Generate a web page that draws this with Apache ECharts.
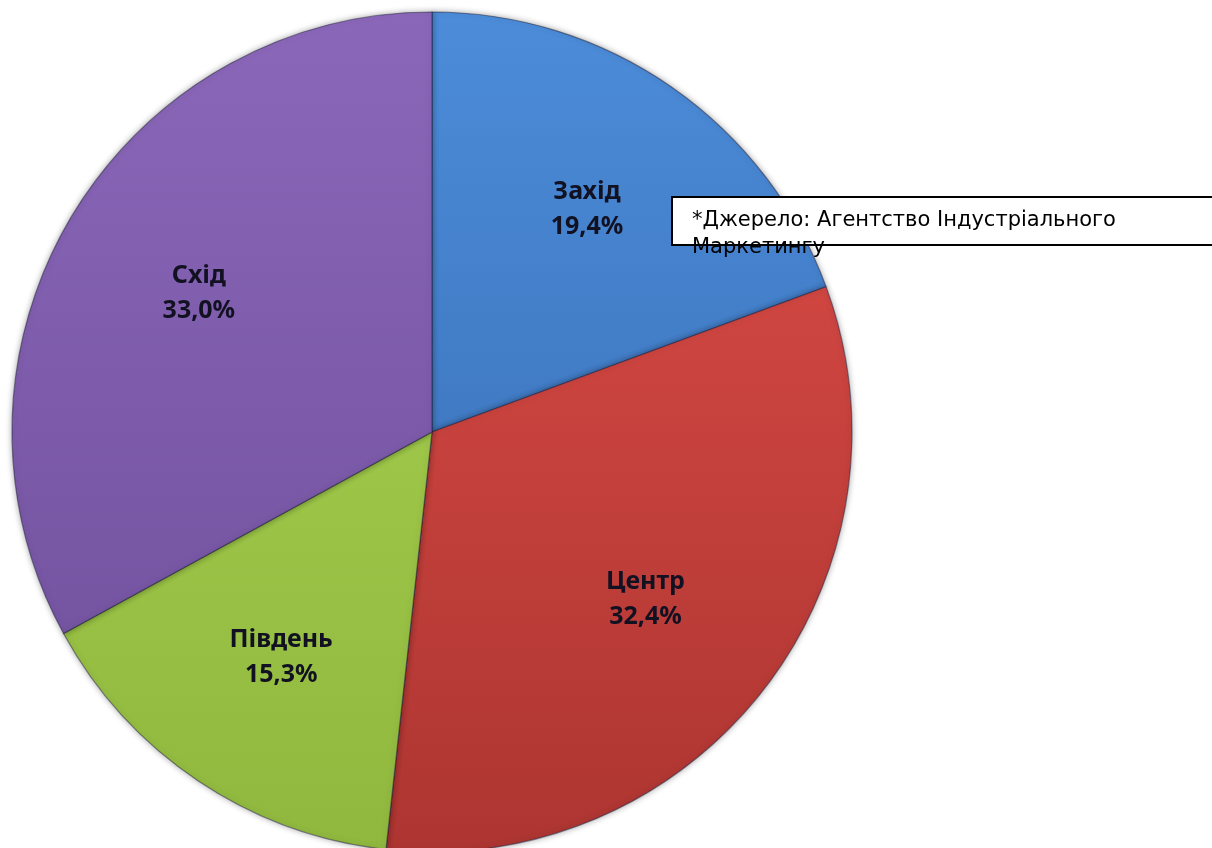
<!DOCTYPE html>
<html>
<head>
<meta charset="utf-8">
<script src="https://cdn.jsdelivr.net/npm/echarts@6/dist/echarts.min.js"></script>
<style>
  html, body { margin: 0; padding: 0; background: #ffffff; }
  #chart { width: 1212px; height: 848px; }
</style>
</head>
<body>
<div id="chart"></div>
<script>
const categories = ['Захід', 'Центр', 'Південь', 'Схід'];
const shares = [19.4, 32.4, 15.3, 33.0];
const shareLabels = ['19,4%', '32,4%', '15,3%', '33,0%'];
const sourceNote = '*Джерело: Агентство Індустріального\nМаркетингу';

const palette = [
  ['#4c8cd9', '#3568ae'],
  ['#e04e49', '#ad3531'],
  ['#abd453', '#90b83e'],
  ['#8b67b9', '#6d4e9a']
];

const cx = 432, cy = 432, R = 420;

function grad(c) {
  return {
    type: 'linear', global: true,
    x: 0, y: cy - R, x2: 0, y2: cy + R,
    colorStops: [{ offset: 0, color: c[0] }, { offset: 1, color: c[1] }]
  };
}

const sliceData = categories.map((name, i) => ({
  name: name,
  value: shares[i],
  itemStyle: { color: grad(palette[i]) }
}));

const labelData = categories.map((name, i) => ({
  name: name,
  value: shares[i],
  label: { formatter: name + '\n' + shareLabels[i] }
}));

const chart = echarts.init(document.getElementById('chart'), null, { renderer: 'canvas' });
chart.setOption({
  animation: false,
  backgroundColor: '#ffffff',
  series: [
    {
      type: 'pie',
      center: [cx, cy],
      radius: [0, R],
      startAngle: 90,
      clockwise: true,
      silent: true,
      label: { show: false },
      labelLine: { show: false },
      itemStyle: {
        borderColor: 'rgba(30,30,60,0.5)',
        borderWidth: 1.2,
        shadowBlur: 6,
        shadowColor: 'rgba(0,0,0,0.35)'
      },
      data: sliceData
    },
    {
      type: 'pie',
      center: [cx, cy],
      radius: [116, R],
      startAngle: 90,
      clockwise: true,
      silent: true,
      itemStyle: { color: 'rgba(0,0,0,0)', borderWidth: 0 },
      label: {
        show: true,
        position: 'inside',
        color: '#111122',
        fontFamily: 'Noto Sans',
        fontWeight: 'bold',
        fontSize: 25,
        lineHeight: 35,
        align: 'center'
      },
      labelLine: { show: false },
      data: labelData
    }
  ],
  graphic: [
    {
      type: 'rect',
      shape: { x: 672, y: 197, width: 560, height: 48 },
      style: { fill: '#ffffff', stroke: '#000000', lineWidth: 2 },
      z: 10
    },
    {
      type: 'text',
      x: 692,
      y: 207,
      z: 11,
      style: {
        text: sourceNote,
        fill: '#000000',
        font: '21px "DejaVu Sans", sans-serif',
        lineHeight: 27,
        textVerticalAlign: 'top'
      }
    }
  ]
});
</script>
</body>
</html>
